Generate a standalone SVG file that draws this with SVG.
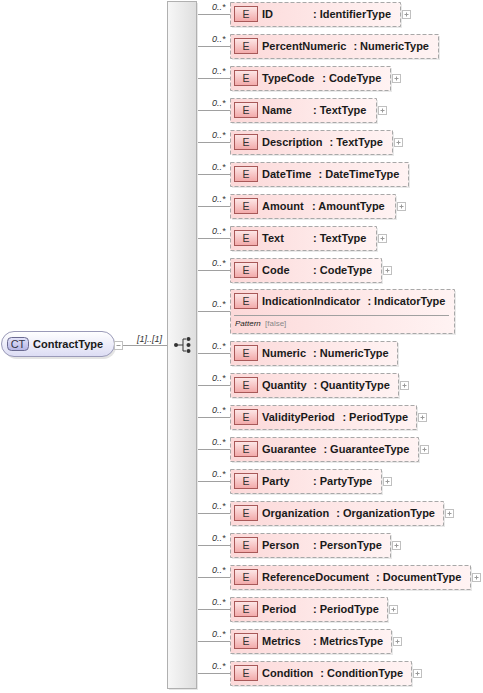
<svg xmlns="http://www.w3.org/2000/svg" width="483" height="693" viewBox="0 0 483 693">
<defs>
<linearGradient id="gBox" x1="0" y1="0" x2="1" y2="0"><stop offset="0" stop-color="#fcd9d9"/><stop offset="1" stop-color="#fff3f3"/></linearGradient>
<linearGradient id="gBadge" x1="0" y1="0" x2="0" y2="1"><stop offset="0" stop-color="#fde8e8"/><stop offset="1" stop-color="#f2a8a8"/></linearGradient>
<linearGradient id="gComp" x1="0" y1="0" x2="1" y2="0"><stop offset="0" stop-color="#f7f7f7"/><stop offset="1" stop-color="#dedede"/></linearGradient>
<linearGradient id="gCT" x1="0" y1="0" x2="0" y2="1"><stop offset="0" stop-color="#ffffff"/><stop offset="1" stop-color="#dcdcf4"/></linearGradient>
<linearGradient id="gCTb" x1="0" y1="0" x2="0" y2="1"><stop offset="0" stop-color="#e4e4fa"/><stop offset="1" stop-color="#b4b4e4"/></linearGradient>
</defs>
<style>
.box{fill:url(#gBox);stroke:#a8a8a8;stroke-width:1;stroke-dasharray:4,2}
.sh{fill:#e9e9e9}
.badge{fill:url(#gBadge);stroke:#a85858;stroke-width:1}
.bt{font-family:"Liberation Sans",Arial,sans-serif;font-size:10.5px;fill:#333;text-anchor:middle}
.nm{font-family:"Liberation Sans",Arial,sans-serif;font-size:11px;font-weight:bold;fill:#1a1a1a}
.card{font-family:"Liberation Sans",Arial,sans-serif;font-size:9px;font-style:italic;fill:#333}
.ln{stroke:#a0a0a0;stroke-width:1;fill:none}
.plus{fill:#fff;stroke:#c0c0c0;stroke-width:1}
.pl{stroke:#9a9a9a;stroke-width:1}
.sm{font-family:"Liberation Sans",Arial,sans-serif;font-size:8px}
</style>

<g id="connectors">
<line class="ln" x1="123" y1="345.5" x2="167" y2="345.5"/>
<line class="ln" x1="196" y1="14.5" x2="230" y2="14.5"/>
<line class="ln" x1="196" y1="46.5" x2="230" y2="46.5"/>
<line class="ln" x1="196" y1="78.5" x2="230" y2="78.5"/>
<line class="ln" x1="196" y1="110.5" x2="230" y2="110.5"/>
<line class="ln" x1="196" y1="142.5" x2="230" y2="142.5"/>
<line class="ln" x1="196" y1="174.5" x2="230" y2="174.5"/>
<line class="ln" x1="196" y1="206.5" x2="230" y2="206.5"/>
<line class="ln" x1="196" y1="238.5" x2="230" y2="238.5"/>
<line class="ln" x1="196" y1="270.5" x2="230" y2="270.5"/>
<line class="ln" x1="196" y1="311.5" x2="230" y2="311.5"/>
<line class="ln" x1="196" y1="353.5" x2="230" y2="353.5"/>
<line class="ln" x1="196" y1="385.5" x2="230" y2="385.5"/>
<line class="ln" x1="196" y1="417.5" x2="230" y2="417.5"/>
<line class="ln" x1="196" y1="449.5" x2="230" y2="449.5"/>
<line class="ln" x1="196" y1="481.5" x2="230" y2="481.5"/>
<line class="ln" x1="196" y1="513.5" x2="230" y2="513.5"/>
<line class="ln" x1="196" y1="545.5" x2="230" y2="545.5"/>
<line class="ln" x1="196" y1="577.5" x2="230" y2="577.5"/>
<line class="ln" x1="196" y1="609.5" x2="230" y2="609.5"/>
<line class="ln" x1="196" y1="641.5" x2="230" y2="641.5"/>
<line class="ln" x1="196" y1="673.5" x2="230" y2="673.5"/>
<text class="card" x="137" y="342">[1]..[1]</text>
<text class="card" x="212" y="10">0..*</text>
<text class="card" x="212" y="42">0..*</text>
<text class="card" x="212" y="74">0..*</text>
<text class="card" x="212" y="106">0..*</text>
<text class="card" x="212" y="138">0..*</text>
<text class="card" x="212" y="170">0..*</text>
<text class="card" x="212" y="202">0..*</text>
<text class="card" x="212" y="234">0..*</text>
<text class="card" x="212" y="266">0..*</text>
<text class="card" x="212" y="307">0..*</text>
<text class="card" x="212" y="349">0..*</text>
<text class="card" x="212" y="381">0..*</text>
<text class="card" x="212" y="413">0..*</text>
<text class="card" x="212" y="445">0..*</text>
<text class="card" x="212" y="477">0..*</text>
<text class="card" x="212" y="509">0..*</text>
<text class="card" x="212" y="541">0..*</text>
<text class="card" x="212" y="573">0..*</text>
<text class="card" x="212" y="605">0..*</text>
<text class="card" x="212" y="637">0..*</text>
<text class="card" x="212" y="669">0..*</text>
</g>

<g id="ContractType">
<rect x="4" y="334" width="112" height="25" rx="12.5" fill="#e4e4e4"/>
<rect x="1.5" y="331.5" width="113" height="25" rx="12.5" fill="url(#gCT)" stroke="#9a9ab8"/>
<rect x="7.5" y="337.5" width="21" height="13" rx="4" fill="url(#gCTb)" stroke="#6a6a90"/>
<text x="18" y="348" style="font-family:'Liberation Sans',Arial,sans-serif;font-size:11px;fill:#334;text-anchor:middle">CT</text>
<text class="nm" x="33" y="348">ContractType</text>
<rect class="plus" x="114.5" y="341.5" width="8" height="8"/>
<line class="pl" x1="116.5" y1="345.5" x2="120.5" y2="345.5"/>
</g>

<g id="sequence">
<rect x="169" y="3" width="29" height="687" fill="#e6e6e6"/>
<rect x="167.5" y="1.5" width="29" height="687" fill="url(#gComp)" stroke="#b0b0b0"/>
<circle cx="176" cy="345" r="2" fill="#333"/>
<line x1="176" y1="345" x2="183" y2="345" stroke="#333"/>
<path d="M186,339 H183 V351 H186" fill="none" stroke="#333"/>
<circle cx="188.5" cy="339" r="2" fill="#333"/>
<circle cx="188.5" cy="345" r="2" fill="#333"/>
<circle cx="188.5" cy="351" r="2" fill="#333"/>
</g>

<g id="ID"><rect class="sh" x="232" y="4" width="170" height="24"/><rect class="box" x="230.5" y="2.5" width="170" height="24"/><rect class="badge" x="234.5" y="6.5" width="23" height="15"/><text class="bt" x="246" y="18">E</text><text class="nm" x="262" y="17.5">ID</text><text class="nm" x="313" y="17.5">: IdentifierType</text><rect class="plus" x="402.5" y="10.5" width="8" height="8"/><line class="pl" x1="404.5" y1="14.5" x2="408.5" y2="14.5"/><line class="pl" x1="406.5" y1="12.5" x2="406.5" y2="16.5"/></g>

<g id="PercentNumeric"><rect class="sh" x="232" y="36" width="208" height="24"/><rect class="box" x="230.5" y="34.5" width="208" height="24"/><rect class="badge" x="234.5" y="38.5" width="23" height="15"/><text class="bt" x="246" y="50">E</text><text class="nm" x="262" y="49.5">PercentNumeric</text><text class="nm" x="353.4" y="49.5">: NumericType</text></g>

<g id="TypeCode"><rect class="sh" x="232" y="68" width="160" height="24"/><rect class="box" x="230.5" y="66.5" width="160" height="24"/><rect class="badge" x="234.5" y="70.5" width="23" height="15"/><text class="bt" x="246" y="82">E</text><text class="nm" x="262" y="81.5">TypeCode</text><text class="nm" x="322.2" y="81.5">: CodeType</text><rect class="plus" x="392.5" y="74.5" width="8" height="8"/><line class="pl" x1="394.5" y1="78.5" x2="398.5" y2="78.5"/><line class="pl" x1="396.5" y1="76.5" x2="396.5" y2="80.5"/></g>

<g id="Name"><rect class="sh" x="232" y="100" width="146" height="24"/><rect class="box" x="230.5" y="98.5" width="146" height="24"/><rect class="badge" x="234.5" y="102.5" width="23" height="15"/><text class="bt" x="246" y="114">E</text><text class="nm" x="262" y="113.5">Name</text><text class="nm" x="313" y="113.5">: TextType</text><rect class="plus" x="378.5" y="106.5" width="8" height="8"/><line class="pl" x1="380.5" y1="110.5" x2="384.5" y2="110.5"/><line class="pl" x1="382.5" y1="108.5" x2="382.5" y2="112.5"/></g>

<g id="Description"><rect class="sh" x="232" y="132" width="162" height="24"/><rect class="box" x="230.5" y="130.5" width="162" height="24"/><rect class="badge" x="234.5" y="134.5" width="23" height="15"/><text class="bt" x="246" y="146">E</text><text class="nm" x="262" y="145.5">Description</text><text class="nm" x="329.5" y="145.5">: TextType</text><rect class="plus" x="394.5" y="138.5" width="8" height="8"/><line class="pl" x1="396.5" y1="142.5" x2="400.5" y2="142.5"/><line class="pl" x1="398.5" y1="140.5" x2="398.5" y2="144.5"/></g>

<g id="DateTime"><rect class="sh" x="232" y="164" width="178" height="24"/><rect class="box" x="230.5" y="162.5" width="178" height="24"/><rect class="badge" x="234.5" y="166.5" width="23" height="15"/><text class="bt" x="246" y="178">E</text><text class="nm" x="262" y="177.5">DateTime</text><text class="nm" x="318.5" y="177.5">: DateTimeType</text></g>

<g id="Amount"><rect class="sh" x="232" y="196" width="165" height="24"/><rect class="box" x="230.5" y="194.5" width="165" height="24"/><rect class="badge" x="234.5" y="198.5" width="23" height="15"/><text class="bt" x="246" y="210">E</text><text class="nm" x="262" y="209.5">Amount</text><text class="nm" x="312" y="209.5">: AmountType</text><rect class="plus" x="397.5" y="202.5" width="8" height="8"/><line class="pl" x1="399.5" y1="206.5" x2="403.5" y2="206.5"/><line class="pl" x1="401.5" y1="204.5" x2="401.5" y2="208.5"/></g>

<g id="Text"><rect class="sh" x="232" y="228" width="146" height="24"/><rect class="box" x="230.5" y="226.5" width="146" height="24"/><rect class="badge" x="234.5" y="230.5" width="23" height="15"/><text class="bt" x="246" y="242">E</text><text class="nm" x="262" y="241.5">Text</text><text class="nm" x="313" y="241.5">: TextType</text><rect class="plus" x="378.5" y="234.5" width="8" height="8"/><line class="pl" x1="380.5" y1="238.5" x2="384.5" y2="238.5"/><line class="pl" x1="382.5" y1="236.5" x2="382.5" y2="240.5"/></g>

<g id="Code"><rect class="sh" x="232" y="260" width="151" height="24"/><rect class="box" x="230.5" y="258.5" width="151" height="24"/><rect class="badge" x="234.5" y="262.5" width="23" height="15"/><text class="bt" x="246" y="274">E</text><text class="nm" x="262" y="273.5">Code</text><text class="nm" x="313" y="273.5">: CodeType</text><rect class="plus" x="383.5" y="266.5" width="8" height="8"/><line class="pl" x1="385.5" y1="270.5" x2="389.5" y2="270.5"/><line class="pl" x1="387.5" y1="268.5" x2="387.5" y2="272.5"/></g>

<g id="IndicationIndicator"><rect class="sh" x="232" y="291" width="224" height="44"/><rect class="box" x="230.5" y="289.5" width="224" height="44"/><rect class="badge" x="234.5" y="293.5" width="23" height="15"/><text class="bt" x="246" y="305">E</text><text class="nm" x="262" y="304.5">IndicationIndicator</text><text class="nm" x="367.4" y="304.5">: IndicatorType</text><line x1="234" y1="315.5" x2="449" y2="315.5" stroke="#a0a0a0"/><text class="sm" x="235" y="326" style="font-style:italic;fill:#222">Pattern</text><text class="sm" x="265" y="326" style="fill:#888">[false]</text></g>

<g id="Numeric"><rect class="sh" x="232" y="343" width="167" height="24"/><rect class="box" x="230.5" y="341.5" width="167" height="24"/><rect class="badge" x="234.5" y="345.5" width="23" height="15"/><text class="bt" x="246" y="357">E</text><text class="nm" x="262" y="356.5">Numeric</text><text class="nm" x="313" y="356.5">: NumericType</text></g>

<g id="Quantity"><rect class="sh" x="232" y="375" width="168" height="24"/><rect class="box" x="230.5" y="373.5" width="168" height="24"/><rect class="badge" x="234.5" y="377.5" width="23" height="15"/><text class="bt" x="246" y="389">E</text><text class="nm" x="262" y="388.5">Quantity</text><text class="nm" x="313.6" y="388.5">: QuantityType</text><rect class="plus" x="400.5" y="381.5" width="8" height="8"/><line class="pl" x1="402.5" y1="385.5" x2="406.5" y2="385.5"/><line class="pl" x1="404.5" y1="383.5" x2="404.5" y2="387.5"/></g>

<g id="ValidityPeriod"><rect class="sh" x="232" y="407" width="186" height="24"/><rect class="box" x="230.5" y="405.5" width="186" height="24"/><rect class="badge" x="234.5" y="409.5" width="23" height="15"/><text class="bt" x="246" y="421">E</text><text class="nm" x="262" y="420.5">ValidityPeriod</text><text class="nm" x="342.4" y="420.5">: PeriodType</text><rect class="plus" x="418.5" y="413.5" width="8" height="8"/><line class="pl" x1="420.5" y1="417.5" x2="424.5" y2="417.5"/><line class="pl" x1="422.5" y1="415.5" x2="422.5" y2="419.5"/></g>

<g id="Guarantee"><rect class="sh" x="232" y="439" width="188" height="24"/><rect class="box" x="230.5" y="437.5" width="188" height="24"/><rect class="badge" x="234.5" y="441.5" width="23" height="15"/><text class="bt" x="246" y="453">E</text><text class="nm" x="262" y="452.5">Guarantee</text><text class="nm" x="323.4" y="452.5">: GuaranteeType</text><rect class="plus" x="420.5" y="445.5" width="8" height="8"/><line class="pl" x1="422.5" y1="449.5" x2="426.5" y2="449.5"/><line class="pl" x1="424.5" y1="447.5" x2="424.5" y2="451.5"/></g>

<g id="Party"><rect class="sh" x="232" y="471" width="151" height="24"/><rect class="box" x="230.5" y="469.5" width="151" height="24"/><rect class="badge" x="234.5" y="473.5" width="23" height="15"/><text class="bt" x="246" y="485">E</text><text class="nm" x="262" y="484.5">Party</text><text class="nm" x="313" y="484.5">: PartyType</text><rect class="plus" x="383.5" y="477.5" width="8" height="8"/><line class="pl" x1="385.5" y1="481.5" x2="389.5" y2="481.5"/><line class="pl" x1="387.5" y1="479.5" x2="387.5" y2="483.5"/></g>

<g id="Organization"><rect class="sh" x="232" y="503" width="213" height="24"/><rect class="box" x="230.5" y="501.5" width="213" height="24"/><rect class="badge" x="234.5" y="505.5" width="23" height="15"/><text class="bt" x="246" y="517">E</text><text class="nm" x="262" y="516.5">Organization</text><text class="nm" x="336.2" y="516.5">: OrganizationType</text><rect class="plus" x="445.5" y="509.5" width="8" height="8"/><line class="pl" x1="447.5" y1="513.5" x2="451.5" y2="513.5"/><line class="pl" x1="449.5" y1="511.5" x2="449.5" y2="515.5"/></g>

<g id="Person"><rect class="sh" x="232" y="535" width="160" height="24"/><rect class="box" x="230.5" y="533.5" width="160" height="24"/><rect class="badge" x="234.5" y="537.5" width="23" height="15"/><text class="bt" x="246" y="549">E</text><text class="nm" x="262" y="548.5">Person</text><text class="nm" x="313" y="548.5">: PersonType</text><rect class="plus" x="392.5" y="541.5" width="8" height="8"/><line class="pl" x1="394.5" y1="545.5" x2="398.5" y2="545.5"/><line class="pl" x1="396.5" y1="543.5" x2="396.5" y2="547.5"/></g>

<g id="ReferenceDocument"><rect class="sh" x="232" y="567" width="240" height="24"/><rect class="box" x="230.5" y="565.5" width="240" height="24"/><rect class="badge" x="234.5" y="569.5" width="23" height="15"/><text class="bt" x="246" y="581">E</text><text class="nm" x="262" y="580.5">ReferenceDocument</text><text class="nm" x="376" y="580.5">: DocumentType</text><rect class="plus" x="472.5" y="573.5" width="8" height="8"/><line class="pl" x1="474.5" y1="577.5" x2="478.5" y2="577.5"/><line class="pl" x1="476.5" y1="575.5" x2="476.5" y2="579.5"/></g>

<g id="Period"><rect class="sh" x="232" y="599" width="157" height="24"/><rect class="box" x="230.5" y="597.5" width="157" height="24"/><rect class="badge" x="234.5" y="601.5" width="23" height="15"/><text class="bt" x="246" y="613">E</text><text class="nm" x="262" y="612.5">Period</text><text class="nm" x="313" y="612.5">: PeriodType</text><rect class="plus" x="389.5" y="605.5" width="8" height="8"/><line class="pl" x1="391.5" y1="609.5" x2="395.5" y2="609.5"/><line class="pl" x1="393.5" y1="607.5" x2="393.5" y2="611.5"/></g>

<g id="Metrics"><rect class="sh" x="232" y="631" width="161" height="24"/><rect class="box" x="230.5" y="629.5" width="161" height="24"/><rect class="badge" x="234.5" y="633.5" width="23" height="15"/><text class="bt" x="246" y="645">E</text><text class="nm" x="262" y="644.5">Metrics</text><text class="nm" x="313" y="644.5">: MetricsType</text><rect class="plus" x="393.5" y="637.5" width="8" height="8"/><line class="pl" x1="395.5" y1="641.5" x2="399.5" y2="641.5"/><line class="pl" x1="397.5" y1="639.5" x2="397.5" y2="643.5"/></g>

<g id="Condition"><rect class="sh" x="232" y="663" width="181" height="24"/><rect class="box" x="230.5" y="661.5" width="181" height="24"/><rect class="badge" x="234.5" y="665.5" width="23" height="15"/><text class="bt" x="246" y="677">E</text><text class="nm" x="262" y="676.5">Condition</text><text class="nm" x="320.3" y="676.5">: ConditionType</text><rect class="plus" x="413.5" y="669.5" width="8" height="8"/><line class="pl" x1="415.5" y1="673.5" x2="419.5" y2="673.5"/><line class="pl" x1="417.5" y1="671.5" x2="417.5" y2="675.5"/></g>
</svg>
